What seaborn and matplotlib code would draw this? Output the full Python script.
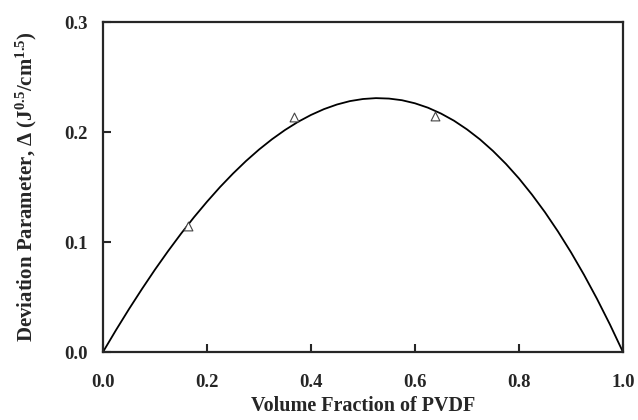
import matplotlib
matplotlib.use("Agg")
import matplotlib.pyplot as plt
import pandas as pd
import seaborn as sns

# fitted curve, values
phi_curve = [0.0, 0.025, 0.05, 0.075, 0.10, 0.125, 0.15, 0.175, 0.20, 0.225, 0.25,
             0.275, 0.30, 0.325, 0.35, 0.375, 0.40, 0.425, 0.45, 0.475, 0.50,
             0.525, 0.55, 0.575, 0.60, 0.625, 0.65, 0.675, 0.70, 0.725, 0.75,
             0.775, 0.80, 0.825, 0.85, 0.875, 0.90, 0.925, 0.95, 0.975, 1.0]
delta_curve = [0.0, 0.0199, 0.0390, 0.0573, 0.0749, 0.0916, 0.1075, 0.1225, 0.1366,
               0.1499, 0.1622, 0.1736, 0.1840, 0.1934, 0.2018, 0.2092, 0.2155,
               0.2208, 0.2250, 0.2281, 0.2300, 0.2308, 0.2304, 0.2289, 0.2261,
               0.2221, 0.2168, 0.2103, 0.2024, 0.1933, 0.1828, 0.1710, 0.1578,
               0.1431, 0.1271, 0.1096, 0.0907, 0.0703, 0.0484, 0.0250, 0.0]

# measured points (triangles)
phi_pts = [0.163, 0.368, 0.638]
delta_pts = [0.1150, 0.2140, 0.2145]

df_curve = pd.DataFrame({'phi': phi_curve, 'delta': delta_curve})
df_pts = pd.DataFrame({'phi': phi_pts, 'delta': delta_pts})

sns.set_style("ticks")
plt.rcParams['font.family'] = ['Liberation Serif', 'DejaVu Serif']
plt.rcParams['font.weight'] = 'bold'
plt.rcParams['mathtext.fontset'] = 'custom'
plt.rcParams['mathtext.bf'] = 'Liberation Serif:bold'
plt.rcParams['mathtext.rm'] = 'Liberation Serif:bold'
plt.rcParams['mathtext.default'] = 'bf'

fig = plt.figure(figsize=(6.38, 4.2), dpi=100)
ax = fig.add_axes([0.1614, 0.1619, 0.815, 0.7857])

sns.lineplot(data=df_curve, x='phi', y='delta', ax=ax, color='black', linewidth=1.3,
             sort=True, estimator=None)
sns.scatterplot(data=df_pts, x='phi', y='delta', ax=ax, marker='^', s=40,
                facecolor='white', edgecolor='#444444', linewidth=0.8, zorder=3)

ax.set_xlim(0, 1.0)
ax.set_ylim(0, 0.3)
ax.set_xticks([0.0, 0.2, 0.4, 0.6, 0.8, 1.0])
ax.set_yticks([0.0, 0.1, 0.2, 0.3])
ax.set_xticklabels(['0.0', '0.2', '0.4', '0.6', '0.8', '1.0'])
ax.set_yticklabels(['0.0', '0.1', '0.2', '0.3'])
ax.tick_params(direction='in', length=6, width=1.5, labelsize=13.5)
ax.tick_params(axis='y', pad=11)
ax.tick_params(axis='x', pad=15.5)
for sp in ax.spines.values():
    sp.set_linewidth(1.6)
    sp.set_visible(True)

ax.set_xlabel('Volume Fraction of PVDF', fontsize=14.5, fontweight='bold', labelpad=4)
ax.set_ylabel('Deviation Parameter, Δ (J$^{0.5}$/cm$^{1.5}$)', fontsize=15,
              fontweight='bold', labelpad=18)

fig.savefig('out.png', dpi=100)
